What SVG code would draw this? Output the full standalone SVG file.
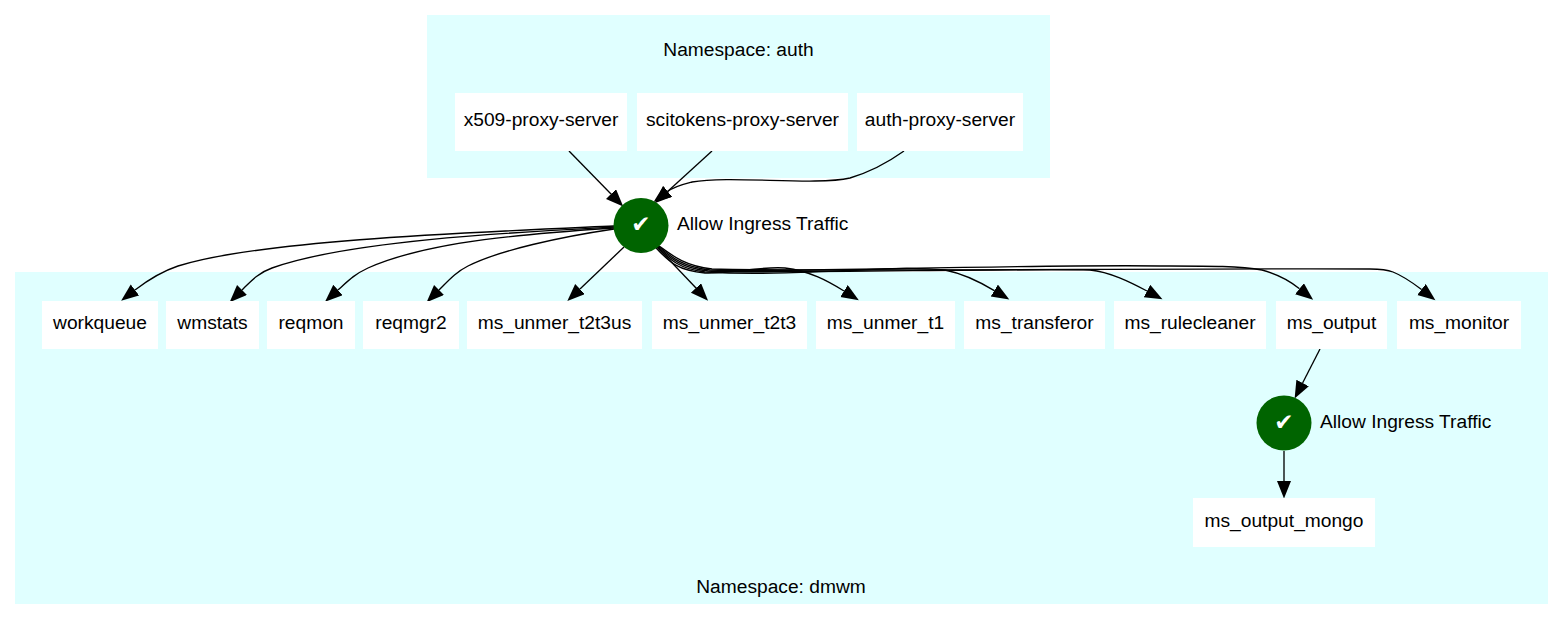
<svg xmlns="http://www.w3.org/2000/svg" width="1563" height="619" viewBox="0 0 1563 619">
<style>
text{font-family:"Liberation Sans",Arial,sans-serif;font-size:19.2px;fill:#000;text-anchor:middle}
.cluster{fill:#e0ffff}
.box{fill:#fff}
.dot{fill:#006400}
.chk{font-family:"DejaVu Sans",sans-serif;fill:#fff;font-size:23px}
.lbl{text-anchor:start}
#edges path{fill:none;stroke:#000;stroke-width:1.33;marker-end:url(#arrow)}
</style>
<defs>
<marker id="arrow" markerUnits="userSpaceOnUse" markerWidth="20" markerHeight="16" refX="0" refY="7" orient="auto"><path d="M0,0L17.5,7L0,14z" fill="#000"/></marker>
</defs>
<rect width="1563" height="619" fill="#fff"/>
<rect class="cluster" x="427" y="15" width="623" height="163"/>
<text x="738.500" y="56">Namespace: auth</text>
<rect class="cluster" x="15" y="272" width="1533" height="332"/>
<text x="781" y="593">Namespace: dmwm</text>
<g id="edges">
<path d="M569,151L611,194"/>
<path d="M712,151L667.600,191.500"/>
<path d="M904,151C890,161 870,172 850,178C815,186 730,175 692,182C684,184 675,186 667.600,191.500"/>
<path d="M614,226C480,232 260,240 178,266C160,272 148,280 135,290"/>
<path d="M614,227C520,232 350,240 272,268C258,273 251,281 242,290"/>
<path d="M614,228C540,233 430,240 368,268C355,274 349,280 338,290"/>
<path d="M614,229C560,237 500,250 468,266C456,272 449,280 439,290"/>
<path d="M624,247L580,289"/>
<path d="M657,247L696,288"/>
<path d="M656,248C668,260 675,270 705,273C730,274 760,266 785,268C810,271 828,281 844,291"/>
<path d="M657,247C670,260 680,269 705,272C760,275 810,272 860,270C890,268 925,268 945,270C965,274 980,282 994.300,290.600"/>
<path d="M658,247C671,259 682,268 708,271C770,274 1020,268 1090,270C1110,272 1130,282 1147,291"/>
<path d="M658,246C672,258 684,267 710,270C800,273 1000,264 1170,266C1210,266 1240,266 1262,270C1277,274 1290,281 1299.500,288.700"/>
<path d="M659,246C674,257 686,266 712,269C800,272 1200,268 1370,269C1380,269 1388,270 1393,272C1403,276 1413,283 1421.500,289.500"/>
<path d="M1320,349L1302.600,383"/>
<path d="M1284,451L1284,481"/>
</g>
<g id="policy1"><circle class="dot" cx="641" cy="225.500" r="27.500"/><text class="chk" x="641" y="232">✔</text><text class="lbl" x="677" y="229.500">Allow Ingress Traffic</text></g>
<g id="policy2"><circle class="dot" cx="1284" cy="423" r="27.500"/><text class="chk" x="1284" y="430">✔</text><text class="lbl" x="1320" y="427.500">Allow Ingress Traffic</text></g>
<g id="x509-proxy-server"><rect class="box" x="455" y="93" width="172" height="58"/><text x="541" y="126">x509-proxy-server</text></g>
<g id="scitokens-proxy-server"><rect class="box" x="637" y="93" width="211" height="58"/><text x="742.500" y="126">scitokens-proxy-server</text></g>
<g id="auth-proxy-server"><rect class="box" x="857" y="93" width="166" height="58"/><text x="940" y="126">auth-proxy-server</text></g>
<g id="workqueue"><rect class="box" x="42" y="301" width="116" height="48"/><text x="100" y="329">workqueue</text></g>
<g id="wmstats"><rect class="box" x="166" y="301" width="93" height="48"/><text x="212.500" y="329">wmstats</text></g>
<g id="reqmon"><rect class="box" x="267" y="301" width="88" height="48"/><text x="311" y="329">reqmon</text></g>
<g id="reqmgr2"><rect class="box" x="363" y="301" width="96" height="48"/><text x="411" y="329">reqmgr2</text></g>
<g id="ms_unmer_t2t3us"><rect class="box" x="467" y="301" width="175" height="48"/><text x="554.500" y="329">ms_unmer_t2t3us</text></g>
<g id="ms_unmer_t2t3"><rect class="box" x="652" y="301" width="155" height="48"/><text x="729.500" y="329">ms_unmer_t2t3</text></g>
<g id="ms_unmer_t1"><rect class="box" x="816" y="301" width="139" height="48"/><text x="885.500" y="329">ms_unmer_t1</text></g>
<g id="ms_transferor"><rect class="box" x="964" y="301" width="141" height="48"/><text x="1034.500" y="329">ms_transferor</text></g>
<g id="ms_rulecleaner"><rect class="box" x="1114" y="301" width="152" height="48"/><text x="1190" y="329">ms_rulecleaner</text></g>
<g id="ms_output"><rect class="box" x="1276" y="301" width="111" height="48"/><text x="1331.500" y="329">ms_output</text></g>
<g id="ms_monitor"><rect class="box" x="1397" y="301" width="124" height="48"/><text x="1459" y="329">ms_monitor</text></g>
<g id="ms_output_mongo"><rect class="box" x="1193" y="498" width="182" height="49"/><text x="1284" y="527">ms_output_mongo</text></g>
</svg>
